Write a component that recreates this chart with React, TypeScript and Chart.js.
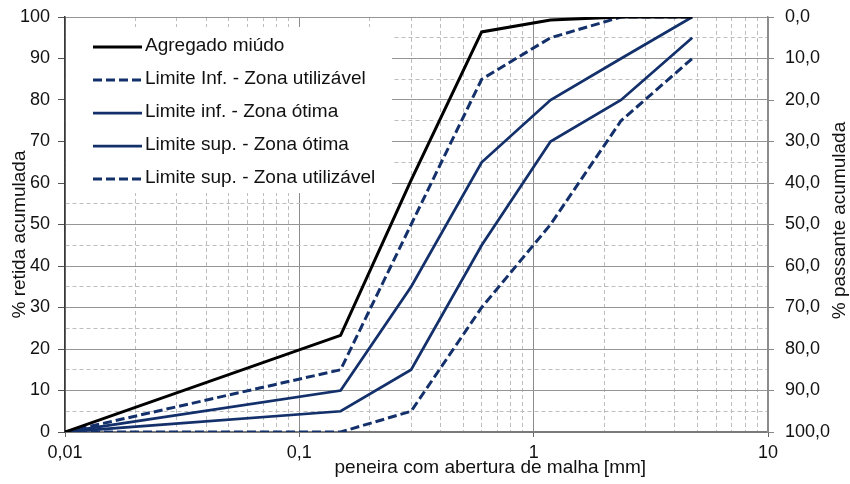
import React, { useEffect, useRef } from 'react';
import { Chart, registerables } from 'chart.js';

Chart.register(...registerables);

// Sieve openings (mm) and cumulative retained percentages
const sieveOpenings = [0.01, 0.15, 0.3, 0.6, 1.18, 2.36, 4.75];
const agregadoMiudo = [0, 23.3, 60.7, 96.4, 99.3, 100, 100];
const limInfUtilizavel = [0, 15, 50, 85, 95, 100, 100];
const limInfOtima = [0, 10, 35, 65, 80, 90, 100];
const limSupOtima = [0, 5, 15, 45, 70, 80, 95];
const limSupUtilizavel = [0, 0, 5, 30, 50, 75, 90];

const seriesLabels = [
  'Agregado miúdo',
  'Limite Inf. - Zona utilizável',
  'Limite inf. - Zona ótima',
  'Limite sup. - Zona ótima',
  'Limite sup. - Zona utilizável',
];

const xTitle = 'peneira com abertura de malha [mm]';
const yTitle = '% retida acumulada';
const y2Title = '% passante acumulada';
const xDecades = [0.01, 0.1, 1, 10];

const FONT = '"Liberation Sans", Arial, sans-serif';
const NAVY = '#13306b';
const DASH = [9, 4];
const MINOR_GRID = '#bdbdbd';

const isDecade = (v: number) => xDecades.some((d) => Math.abs(d - v) < 1e-9);

const toPoints = (ys: number[]) => sieveOpenings.map((x, i) => ({ x, y: ys[i] }));

// Legend and axis titles drawn inside / around the plot area
const overlayPlugin = {
  id: 'overlay',
  beforeDatasetsDraw(chart: any) {
    const { ctx, chartArea: a } = chart;
    ctx.save();
    ctx.fillStyle = '#ffffff';
    ctx.fillRect(a.left + 1, a.top + 10, 326, 166);
    ctx.font = `19px ${FONT}`;
    ctx.textBaseline = 'middle';
    ctx.textAlign = 'left';
    chart.data.datasets.forEach((ds: any, i: number) => {
      const y = a.top + 29 + i * 33;
      ctx.beginPath();
      ctx.setLineDash(ds.borderDash || []);
      ctx.strokeStyle = ds.borderColor;
      ctx.lineWidth = ds.borderWidth;
      ctx.moveTo(a.left + 28, y + 1);
      ctx.lineTo(a.left + 77, y + 1);
      ctx.stroke();
      ctx.setLineDash([]);
      ctx.fillStyle = '#111';
      ctx.fillText(ds.label, a.left + 80, y);
    });
    ctx.restore();
  },
  afterDraw(chart: any) {
    const { ctx, chartArea: a } = chart;
    ctx.save();
    ctx.font = `19px ${FONT}`;
    ctx.fillStyle = '#111';
    ctx.textAlign = 'center';
    ctx.textBaseline = 'middle';
    ctx.fillText(xTitle, a.left + (a.right - a.left) * 0.605, a.bottom + 36);

    ctx.save();
    ctx.translate(20, (a.top + a.bottom) / 2 + 10);
    ctx.rotate(-Math.PI / 2);
    ctx.fillText(yTitle, 0, 0);
    ctx.restore();

    ctx.save();
    ctx.translate(840, (a.top + a.bottom) / 2 - 4);
    ctx.rotate(-Math.PI / 2);
    ctx.fillText(y2Title, 0, 0);
    ctx.restore();
    ctx.restore();
  },
};

export default function App() {
  const canvasRef = useRef<HTMLCanvasElement | null>(null);

  useEffect(() => {
    if (!canvasRef.current) return;
    Chart.defaults.font.family = FONT;
    Chart.defaults.font.size = 18;
    Chart.defaults.color = '#111';

    const chart = new Chart(canvasRef.current, {
      type: 'line',
      data: {
        datasets: [
          { label: seriesLabels[0], data: toPoints(agregadoMiudo), borderColor: '#000000', borderWidth: 3, borderDash: [] },
          { label: seriesLabels[1], data: toPoints(limInfUtilizavel), borderColor: NAVY, borderWidth: 3, borderDash: DASH },
          { label: seriesLabels[2], data: toPoints(limInfOtima), borderColor: NAVY, borderWidth: 2.75, borderDash: [] },
          { label: seriesLabels[3], data: toPoints(limSupOtima), borderColor: NAVY, borderWidth: 2.75, borderDash: [] },
          { label: seriesLabels[4], data: toPoints(limSupUtilizavel), borderColor: NAVY, borderWidth: 3, borderDash: DASH },
        ],
      },
      options: {
        responsive: false,
        animation: false,
        parsing: { xAxisKey: 'x', yAxisKey: 'y' } as any,
        elements: { point: { radius: 0 }, line: { tension: 0 } },
        layout: { padding: { top: 17, left: 0, right: 0, bottom: 0 } },
        plugins: { legend: { display: false }, tooltip: { enabled: false } },
        scales: {
          x: {
            type: 'logarithmic',
            min: 0.01,
            max: 10,
            afterBuildTicks(scale: any) {
              const t: any[] = [];
              [0.01, 0.1, 1].forEach((d) => {
                for (let k = 1; k <= 9; k++) t.push({ value: Number((k * d).toPrecision(6)) });
              });
              t.push({ value: 10 });
              scale.ticks = t;
            },
            afterFit(scale: any) {
              scale.height = 52;
              scale.paddingLeft = 0;
              scale.paddingRight = 0;
            },
            ticks: {
              autoSkip: false,
              maxRotation: 0,
              padding: 5,
              callback: (v: any) => (isDecade(Number(v)) ? String(v).replace('.', ',') : ''),
            },
            grid: {
              color: (ctx: any) => (ctx.tick && isDecade(ctx.tick.value) ? '#8c8c8c' : MINOR_GRID),
              tickColor: (ctx: any) => (ctx.tick && isDecade(ctx.tick.value) ? '#666' : 'rgba(0,0,0,0)'),
              tickLength: 5,
              lineWidth: 1,
            },
            border: {
              color: '#7a7a7a',
              width: 2,
              dash: (ctx: any) => (ctx.tick && !isDecade(ctx.tick.value) ? [4, 3] : []),
            },
          },
          y: {
            position: 'left',
            min: 0,
            max: 100,
            afterFit(scale: any) {
              scale.width = 65;
              scale.paddingTop = 0;
              scale.paddingBottom = 0;
            },
            ticks: {
              stepSize: 5,
              autoSkip: false,
              padding: 8,
              callback: (v: any) => (Number(v) % 10 === 0 ? String(v) : ''),
            },
            grid: {
              color: (ctx: any) => (ctx.tick && ctx.tick.value % 10 === 0 ? '#959595' : MINOR_GRID),
              tickColor: (ctx: any) => (ctx.tick && ctx.tick.value % 10 === 0 ? '#555' : 'rgba(0,0,0,0)'),
              tickLength: 7,
              lineWidth: 1,
            },
            border: {
              color: '#3a3a3a',
              width: 1.5,
              dash: (ctx: any) => (ctx.tick && ctx.tick.value % 10 !== 0 ? [4, 3] : []),
            },
          },
          y1: {
            position: 'right',
            min: 0,
            max: 100,
            reverse: true,
            afterFit(scale: any) {
              scale.width = 82;
              scale.paddingTop = 0;
              scale.paddingBottom = 0;
            },
            ticks: {
              stepSize: 10,
              padding: 11,
              callback: (v: any) => Number(v).toFixed(1).replace('.', ','),
            },
            grid: {
              drawOnChartArea: false,
              tickColor: '#888',
              tickLength: 6,
            },
            border: { color: '#8c8c8c', width: 1.5 },
          },
        },
      },
      plugins: [overlayPlugin],
    } as any);

    return () => chart.destroy();
  }, []);

  return (
    <div style={{ position: 'fixed', left: 0, top: 0, width: 850, height: 484, background: '#ffffff' }}>
      <canvas ref={canvasRef} width={850} height={484} />
    </div>
  );
}
